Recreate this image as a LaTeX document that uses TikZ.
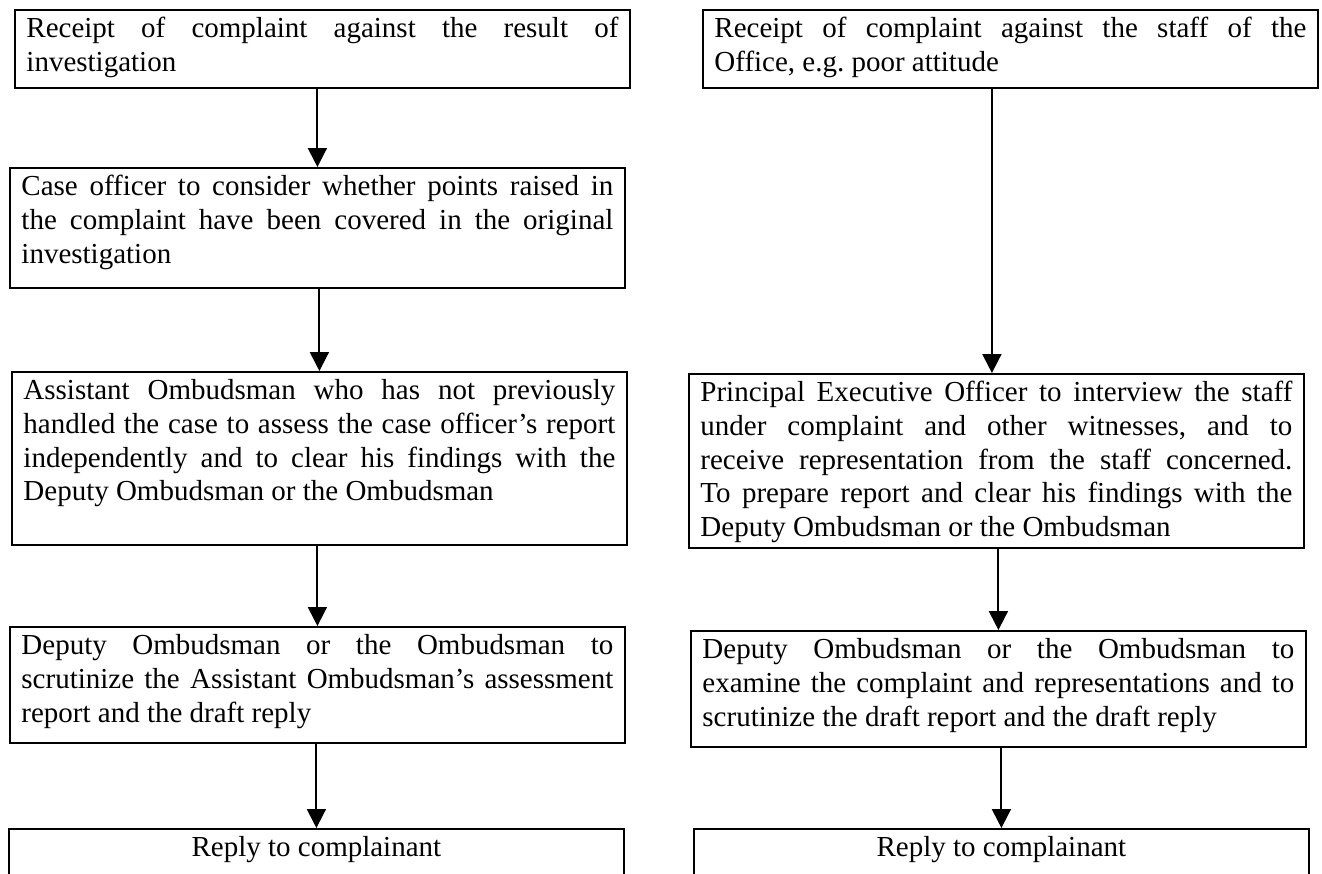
\documentclass[tikz,border=0pt]{standalone}
\usepackage{fontspec}
\setmainfont{Liberation Serif}
\usetikzlibrary{positioning,arrows.meta}
\hyphenpenalty=10000
\exhyphenpenalty=10000
\frenchspacing
\newcommand{\boxtext}[2]{\parbox[t][#1][t]{11.84cm}{\strut #2}}
\newcommand{\midtext}[2]{\parbox[t][#1][t]{11.84cm}{\centering\strut #2}}

\begin{document}
\begin{tikzpicture}[x=0.02cm, y=-0.02cm,
		stepbox/.style={draw, line width=1.1pt, anchor=north west, inner xsep=0.23cm, inner ysep=0.08cm,
			font=\fontsize{16.5pt}{19.2pt}\selectfont},
		flow/.style={-{Triangle[width=0.38cm,length=0.38cm]}, line width=1.1pt}
]
\useasboundingbox (0,0) rectangle (1322,873);

\node [stepbox] (ResultIn) at (14,9) {\boxtext{1.40cm}{Receipt of complaint against the result of\linebreak investigation}};
\node [stepbox] (CaseOfficer) at (9,167) {\boxtext{2.24cm}{Case officer to consider whether points raised in\linebreak the complaint have been covered in the original\linebreak investigation}};
\node [stepbox] (Assistant) at (11,371) {\boxtext{3.30cm}{Assistant Ombudsman who has not previously\linebreak handled the case to assess the case officer's report\linebreak independently and to clear his findings with the\linebreak Deputy Ombudsman or the Ombudsman}};
\node [stepbox] (ScrutinyL) at (9,626) {\boxtext{2.16cm}{Deputy Ombudsman or the Ombudsman to\linebreak scrutinize the Assistant Ombudsman's assessment\linebreak report and the draft reply}};
\node [stepbox] (ReplyL) at (8,828) {\midtext{1.08cm}{Reply to complainant}};

\node [stepbox] (StaffIn) at (702,9) {\boxtext{1.40cm}{Receipt of complaint against the staff of the\linebreak Office, e.g. poor attitude}};
\node [stepbox] (Principal) at (688,373) {\boxtext{3.32cm}{Principal Executive Officer to interview the staff\linebreak under complaint and other witnesses, and to\linebreak receive representation from the staff concerned.\linebreak To prepare report and clear his findings with the\linebreak Deputy Ombudsman or the Ombudsman}};
\node [stepbox] (ScrutinyR) at (690,630) {\boxtext{2.16cm}{Deputy Ombudsman or the Ombudsman to\linebreak examine the complaint and representations and to\linebreak scrutinize the draft report and the draft reply}};
\node [stepbox] (ReplyR) at (693,828) {\midtext{1.08cm}{Reply to complainant}};

\draw [flow] (CaseOfficer.north |- ResultIn.south) -- (CaseOfficer.north);
\draw [flow] (Assistant.north |- CaseOfficer.south) -- (Assistant.north);
\draw [flow] (ScrutinyL.north |- Assistant.south) -- (ScrutinyL.north);
\draw [flow] (ReplyL.north |- ScrutinyL.south) -- (ReplyL.north);

\draw [flow] ([xshift=-0.09cm]Principal.north |- StaffIn.south) -- ([xshift=-0.09cm]Principal.north);
\draw [flow] (ScrutinyR.north |- Principal.south) -- (ScrutinyR.north);
\draw [flow] (ReplyR.north |- ScrutinyR.south) -- (ReplyR.north);

\end{tikzpicture}
\end{document}
